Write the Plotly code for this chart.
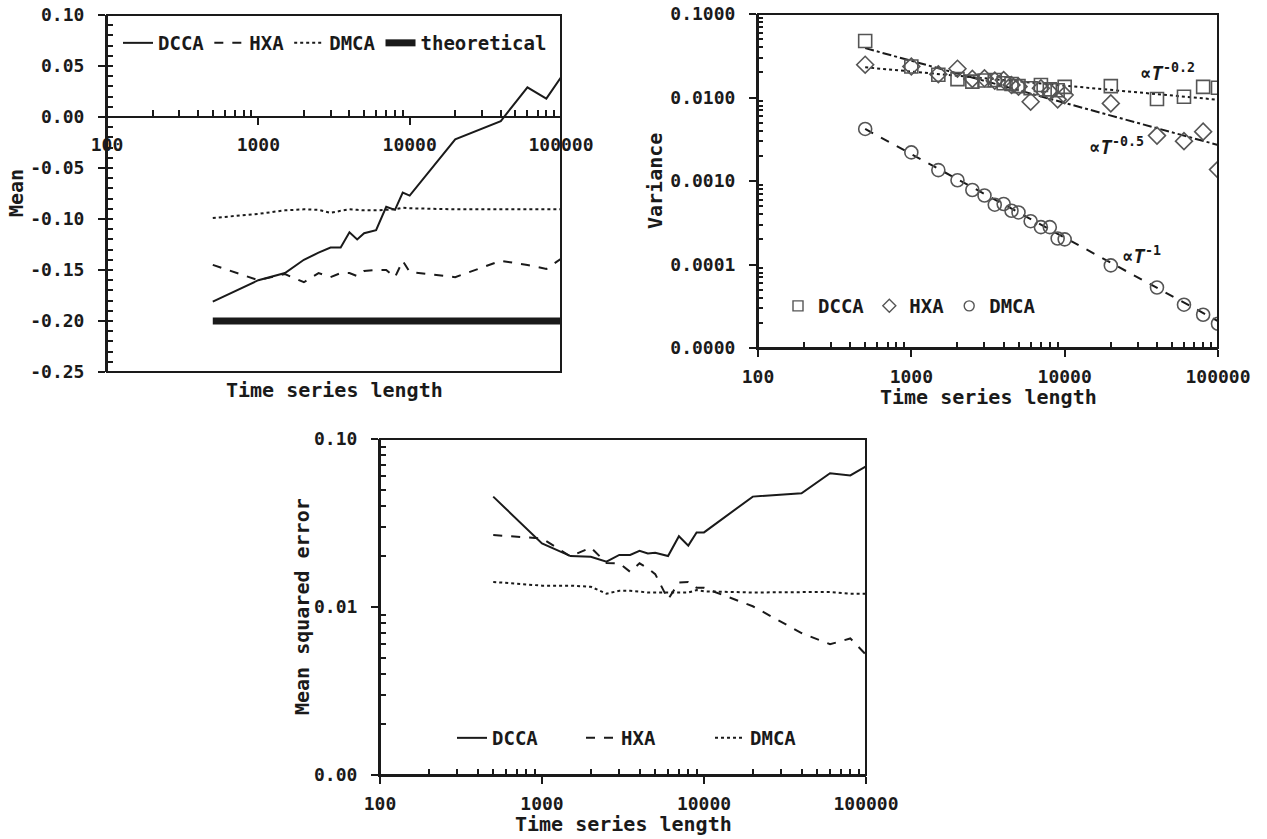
import plotly.graph_objects as go

W, H = 1267, 839

# ---------------- data ----------------
T = [500, 1000, 1500, 2000, 2500, 3000, 3500, 4000, 4500, 5000,
     6000, 7000, 8000, 9000, 10000, 20000, 40000, 60000, 80000, 100000]

mean_dcca = [-0.181, -0.160, -0.153, -0.140, -0.133, -0.128, -0.128, -0.113, -0.120, -0.114,
             -0.111, -0.088, -0.091, -0.074, -0.077, -0.022, -0.004, 0.029, 0.018, 0.039]
mean_hxa = [-0.145, -0.160, -0.154, -0.162, -0.153, -0.157, -0.153, -0.153, -0.156, -0.151,
            -0.150, -0.150, -0.157, -0.141, -0.152, -0.157, -0.141, -0.145, -0.149, -0.139]
mean_dmca = [-0.099, -0.095, -0.0915, -0.0905, -0.091, -0.094, -0.092, -0.0905, -0.091, -0.0915,
             -0.0915, -0.091, -0.0905, -0.089, -0.0895, -0.0905, -0.0905, -0.0905, -0.091, -0.0905]
theo_T = [500, 100000]
theo_val = [-0.20, -0.20]

var_dcca = [0.0474, 0.0235, 0.0187, 0.0166, 0.0155, 0.0160, 0.0162, 0.0148, 0.0145, 0.0137,
            0.0129, 0.0141, 0.0125, 0.0122, 0.0134, 0.0137, 0.0096, 0.0102, 0.0134, 0.0131]
var_hxa = [0.0247, 0.0235, 0.0190, 0.0221, 0.0167, 0.0170, 0.0159, 0.0162, 0.0141, 0.0135,
           0.0089, 0.0129, 0.0117, 0.0095, 0.0107, 0.0085, 0.0035, 0.0030, 0.0039, 0.00137]
var_dmca = [0.0042, 0.0022, 0.00135, 0.00102, 0.00078, 0.00067, 0.00052, 0.00053, 0.00044, 0.00042,
            0.00033, 0.00028, 0.00028, 0.000205, 0.0002, 0.0000975, 0.000053, 0.000033, 0.000025, 0.0000195]
fit_T = [500, 100000]
fit_p05 = [0.039, 0.0027]
fit_p02 = [0.023, 0.0094]
fit_p1 = [0.0042, 0.000021]

mse_dcca = [0.0454, 0.0239, 0.0201, 0.0199, 0.0186, 0.0204, 0.0204, 0.0216, 0.0208, 0.0210,
            0.0201, 0.0264, 0.0232, 0.0278, 0.0278, 0.0454, 0.0475, 0.0626, 0.0607, 0.0687]
mse_hxa = [0.0268, 0.0256, 0.0200, 0.0226, 0.0183, 0.0182, 0.0162, 0.0182, 0.0170, 0.0157,
           0.0111, 0.0140, 0.0141, 0.0130, 0.0130, 0.0101, 0.0070, 0.0060, 0.0065, 0.0052]
mse_dmca = [0.0141, 0.0134, 0.0134, 0.0132, 0.0120, 0.0125, 0.0125, 0.0123, 0.0122, 0.0122,
            0.0122, 0.0122, 0.0122, 0.0126, 0.0124, 0.0122, 0.0122, 0.0123, 0.0120, 0.0120]

x_tickvals = [100, 1000, 10000, 100000]
x_ticktext = ["100", "1000", "10000", "100000"]
x_minor = [200, 300, 400, 500, 600, 700, 800, 900,
           2000, 3000, 4000, 5000, 6000, 7000, 8000, 9000,
           20000, 30000, 40000, 50000, 60000, 70000, 80000, 90000]
mean_tickvals = [-0.25, -0.20, -0.15, -0.10, -0.05, 0.0, 0.05, 0.10]
mean_ticktext = ["-0.25", "-0.20", "-0.15", "-0.10", "-0.05", "0.00", "0.05", "0.10"]
var_tickvals = [0.00001, 0.0001, 0.001, 0.01, 0.1]
var_ticktext = ["0.0000", "0.0001", "0.0010", "0.0100", "0.1000"]
mse_tickvals = [0.001, 0.01, 0.1]
mse_ticktext = ["0.00", "0.01", "0.10"]

# ---------------- layout geometry (page pixels -> paper) ----------------
def px(x):
    return x / W

def py(y):
    return 1 - y / H

def xd(a, b):
    return [px(a), px(b)]

def yd(top, bottom):
    return [py(bottom), py(top)]

dom_x1, dom_y1 = xd(107, 561), yd(15, 372)
dom_x2, dom_y2 = xd(758, 1218), yd(14, 348)
dom_x3, dom_y3 = xd(380, 866), yd(439, 775)
zero_pos = dom_y1[0] + (0 - (-0.25)) / 0.35 * (dom_y1[1] - dom_y1[0])

FONT = "DejaVu Sans Mono"
INK = "#1a1a1a"
tickfont = dict(family=FONT, size=18, color=INK, weight="bold")
legfont = dict(family=FONT, size=19, color=INK, weight="bold")

fig = go.Figure()

# Panel 1: mean
fig.add_trace(go.Scatter(x=T, y=mean_dcca, mode="lines", name="DCCA",
                         line=dict(color=INK, width=2), xaxis="x", yaxis="y", legend="legend"))
fig.add_trace(go.Scatter(x=T, y=mean_hxa, mode="lines", name="HXA",
                         line=dict(color=INK, width=2, dash="dash"), xaxis="x", yaxis="y", legend="legend"))
fig.add_trace(go.Scatter(x=T, y=mean_dmca, mode="lines", name="DMCA",
                         line=dict(color=INK, width=2, dash="dot"), xaxis="x", yaxis="y", legend="legend"))
fig.add_trace(go.Scatter(x=theo_T, y=theo_val, mode="lines", name="theoretical",
                         line=dict(color=INK, width=7), xaxis="x", yaxis="y", legend="legend"))

# Panel 2: variance
MK_COLOR = "#555555"
mk = dict(color=MK_COLOR, size=13, line=dict(width=1.6, color=MK_COLOR))
fig.add_trace(go.Scatter(x=fit_T, y=fit_p05, mode="lines", showlegend=False,
                         line=dict(color=INK, width=2, dash="dashdot"), xaxis="x2", yaxis="y2"))
fig.add_trace(go.Scatter(x=fit_T, y=fit_p02, mode="lines", showlegend=False,
                         line=dict(color=INK, width=2, dash="dot"), xaxis="x2", yaxis="y2"))
fig.add_trace(go.Scatter(x=fit_T, y=fit_p1, mode="lines", showlegend=False,
                         line=dict(color=INK, width=2, dash="dash"), xaxis="x2", yaxis="y2"))
for vals, sym, nm in [(var_dcca, "square-open", "DCCA"), (var_hxa, "diamond-open", "HXA"),
                      (var_dmca, "circle-open", "DMCA")]:
    fig.add_trace(go.Scatter(x=T, y=vals, mode="markers", name=nm, showlegend=False,
                             marker=dict(symbol=sym, **mk), xaxis="x2", yaxis="y2"))
    # legend entry with smaller symbol, as in the reference
    fig.add_trace(go.Scatter(x=[None], y=[None], mode="markers", name=nm,
                             marker=dict(symbol=sym, color=MK_COLOR, size=10, line=dict(width=1.4, color=MK_COLOR)),
                             xaxis="x2", yaxis="y2", legend="legend2"))

# Panel 3: MSE
fig.add_trace(go.Scatter(x=T, y=mse_dcca, mode="lines", name="DCCA",
                         line=dict(color=INK, width=2), xaxis="x3", yaxis="y3", legend="legend3"))
fig.add_trace(go.Scatter(x=T, y=mse_hxa, mode="lines", name="HXA",
                         line=dict(color=INK, width=2, dash="dash"), xaxis="x3", yaxis="y3", legend="legend3"))
fig.add_trace(go.Scatter(x=T, y=mse_dmca, mode="lines", name="DMCA",
                         line=dict(color=INK, width=2, dash="dot"), xaxis="x3", yaxis="y3", legend="legend3"))


def xaxis_cfg(domain, anchor, position=None):
    d = dict(type="log", range=[2, 5], domain=domain, tickvals=x_tickvals, ticktext=x_ticktext,
             showgrid=False, zeroline=False, showline=True, linecolor=INK, linewidth=2,
             ticks="outside", ticklen=7, tickwidth=2, tickcolor=INK, tickfont=tickfont,
             minor=dict(tickvals=x_minor, ticks="inside", ticklen=6, tickwidth=2, tickcolor=INK, showgrid=False),
             automargin=False, ticklabelstandoff=4, ticklabeloverflow="allow")
    if position is None:
        d["anchor"] = anchor
    else:
        d["anchor"] = "free"
        d["position"] = position
    return d


def log_minor(lo, hi):
    vals = []
    for e in range(lo, hi):
        for m in range(2, 10):
            vals.append(round(m * 10 ** e, 10))
    return vals


def yaxis_cfg(domain, anchor, rng, tv, tt, minor, log=False):
    d = dict(domain=domain, anchor=anchor, range=rng, tickvals=tv, ticktext=tt,
             showgrid=False, zeroline=False, showline=True, linecolor=INK, linewidth=2,
             ticks="outside", ticklen=7, tickwidth=2, tickcolor=INK, tickfont=tickfont,
             minor=minor, automargin=False, ticklabelstandoff=10, ticklabeloverflow="allow")
    if log:
        d["type"] = "log"
    return d


fig.update_layout(
    width=W, height=H,
    margin=dict(l=0, r=0, t=0, b=0),
    paper_bgcolor="white", plot_bgcolor="white",
    hovermode=False,
    xaxis=xaxis_cfg(dom_x1, None, position=zero_pos),
    yaxis=yaxis_cfg(dom_y1, "x", [-0.25, 0.10], mean_tickvals, mean_ticktext,
                    dict(dtick=0.01, tick0=0, ticks="inside", ticklen=6, tickwidth=2, tickcolor=INK, showgrid=False)),
    xaxis2=xaxis_cfg(dom_x2, "y2"),
    yaxis2=yaxis_cfg(dom_y2, "x2", [-5, -1], var_tickvals, var_ticktext,
                     dict(tickvals=log_minor(-5, -1), ticks="inside", ticklen=5, tickwidth=1.5, tickcolor=INK,
                          showgrid=False), log=True),
    xaxis3=xaxis_cfg(dom_x3, "y3"),
    yaxis3=yaxis_cfg(dom_y3, "x3", [-3, -1], mse_tickvals, mse_ticktext,
                     dict(tickvals=log_minor(-3, -1), ticks="inside", ticklen=6, tickwidth=2, tickcolor=INK,
                          showgrid=False), log=True),
    legend=dict(orientation="h", x=px(118), y=py(43), xanchor="left", yanchor="middle",
                font=legfont, itemwidth=30, bgcolor="rgba(0,0,0,0)"),
    legend2=dict(orientation="h", x=px(778), y=py(306), xanchor="left", yanchor="middle",
                 font=legfont, itemwidth=30, bgcolor="rgba(0,0,0,0)"),
    legend3=dict(orientation="h", x=px(452), y=py(738), xanchor="left", yanchor="middle",
                 font=legfont, itemwidth=30, entrywidth=84, entrywidthmode="pixels",
                 bgcolor="rgba(0,0,0,0)"),
    showlegend=True,
)

# frames
for xr, yr in [("x domain", "y domain"), ("x2 domain", "y2 domain"), ("x3 domain", "y3 domain")]:
    fig.add_shape(type="rect", xref=xr, yref=yr, x0=0, x1=1, y0=0, y1=1,
                  line=dict(color=INK, width=2), fillcolor="rgba(0,0,0,0)", layer="above")

titlefont = dict(family=FONT, size=20, color=INK, weight="bold")


def ann(text, x, y, angle=0, font=titlefont):
    fig.add_annotation(text=text, x=px(x), y=py(y), xref="paper", yref="paper",
                       showarrow=False, textangle=angle, font=font, xanchor="center", yanchor="middle")


ann("Mean", 16, 193, -90)
ann("Time series length", 334, 390)
ann("Variance", 655, 181, -90)
ann("Time series length", 988, 397)
ann("Mean squared error", 302, 607, -90)
ann("Time series length", 623, 824)

afont = dict(family=FONT, size=19, color=INK, weight="bold")
fig.add_annotation(text="∝<i>T</i><sup>-0.2</sup>", x=4.67, y=-1.69, xref="x2", yref="y2",
                   showarrow=False, font=afont)
fig.add_annotation(text="∝<i>T</i><sup>-0.5</sup>", x=4.34, y=-2.58, xref="x2", yref="y2",
                   showarrow=False, font=afont)
fig.add_annotation(text="∝<i>T</i><sup>-1</sup>", x=4.50, y=-3.89, xref="x2", yref="y2",
                   showarrow=False, font=afont)

# the page body has an 8px default margin; remove it so the figure starts at the page corner
fig.write_html("out.html", config={"displayModeBar": False},
               post_script="document.body.style.margin='0px';")
